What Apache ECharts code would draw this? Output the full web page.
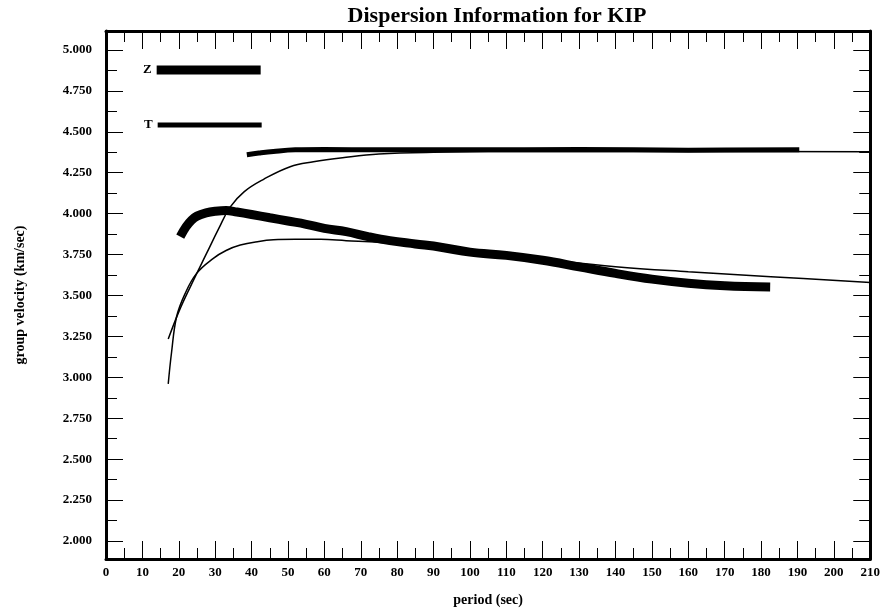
<!DOCTYPE html>
<html><head><meta charset="utf-8">
<script src="https://cdn.jsdelivr.net/npm/echarts@6/dist/echarts.min.js"></script>
<style>html,body{margin:0;padding:0;background:#fff}#c{width:883px;height:612px}</style>
</head><body><div id="c"></div>
<script>
const chartTitle = 'Dispersion Information for KIP';
const xName = 'period (sec)';
const yName = 'group velocity (km/sec)';
const yMajorTicks = [2.0, 2.25, 2.5, 2.75, 3.0, 3.25, 3.5, 3.75, 4.0, 4.25, 4.5, 4.75, 5.0];
const yMinorTicks = [2.125, 2.375, 2.625, 2.875, 3.125, 3.375, 3.625, 3.875, 4.125, 4.375, 4.625, 4.875];

// Z (Rayleigh) observed
const zObsPeriod = [20.4, 22, 23.5, 25, 27.5, 30, 33, 36, 40, 45, 50, 55, 60, 66, 72, 78, 85, 92, 100, 110, 120, 130, 140, 150, 160, 170, 182.5];
const zObsVel    = [3.86, 3.92, 3.96, 3.985, 4.005, 4.015, 4.02, 4.01, 3.995, 3.975, 3.955, 3.935, 3.91, 3.89, 3.86, 3.835, 3.815, 3.795, 3.765, 3.745, 3.715, 3.675, 3.635, 3.6, 3.575, 3.56, 3.552];
// T (Love) observed
const tObsPeriod = [38.7, 42, 46, 52, 60, 75, 100, 130, 160, 190.5];
const tObsVel    = [4.36, 4.37, 4.38, 4.39, 4.392, 4.39, 4.39, 4.392, 4.388, 4.39];
// Z model
const zModPeriod = [17.1, 18, 19.4, 21.7, 24.9, 29.5, 33, 36.9, 42, 46, 52, 59, 66, 75, 85, 100, 120, 140, 160, 182.7, 210];
const zModVel    = [2.96, 3.15, 3.37, 3.51, 3.635, 3.727, 3.775, 3.808, 3.83, 3.84, 3.843, 3.843, 3.835, 3.825, 3.805, 3.77, 3.722, 3.676, 3.645, 3.615, 3.58];
// T model
const tModPeriod = [17.1, 20, 23.1, 27.7, 31, 34.1, 38, 43.3, 50.6, 57, 65, 75, 90, 120, 160, 210];
const tModVel    = [3.234, 3.4, 3.55, 3.76, 3.91, 4.04, 4.135, 4.21, 4.287, 4.317, 4.342, 4.365, 4.375, 4.38, 4.38, 4.378];

const pairs = (xs, ys) => xs.map((x, i) => [x, ys[i]]);
const FONT = 'Liberation Serif';
const lbl = {fontFamily: FONT, fontWeight: 'bold', fontSize: 13, color: '#000'};
const YMIN = 1.89, YMAX = 5.116;

const chart = echarts.init(document.getElementById('c'));
const xAxisBase = (pos, showLabel) => ({
  type: 'value', position: pos, min: 0, max: 210, interval: 10,
  axisLine: {show: true, onZero: false, lineStyle: {color: '#000', width: 3}},
  axisTick: {show: true, inside: true, length: 18, lineStyle: {color: '#000', width: 1}},
  minorTick: {show: true, splitNumber: 2, length: 11, lineStyle: {color: '#000', width: 1}},
  splitLine: {show: false}, minorSplitLine: {show: false},
  axisLabel: Object.assign({show: showLabel, margin: 7}, lbl),
  name: showLabel ? xName : '', nameLocation: 'middle', nameGap: 34,
  nameTextStyle: Object.assign({}, lbl, {fontSize: 14})
});
const yAxisBase = (pos, ticks, len, showLabel, showLine) => ({
  type: 'value', position: pos, min: YMIN, max: YMAX,
  axisLine: {show: showLine, onZero: false, lineStyle: {color: '#000', width: 3}},
  axisTick: {show: true, inside: true, length: len, customValues: ticks, lineStyle: {color: '#000', width: 1}},
  splitLine: {show: false},
  axisLabel: Object.assign({show: showLabel, margin: 14, customValues: ticks, formatter: v => v.toFixed(3)}, lbl),
  name: showLabel ? yName : '', nameLocation: 'middle', nameGap: 79, nameRotate: 90,
  nameTextStyle: Object.assign({}, lbl, {fontSize: 14})
});
const lineSeries = (name, xs, ys, w) => ({
  name, type: 'line', data: pairs(xs, ys), symbol: 'none', smooth: 0.4,
  itemStyle: {color: '#000'}, lineStyle: {color: '#000', width: w}
});

chart.setOption({
  animation: false,
  backgroundColor: '#fff',
  title: {text: chartTitle, left: 492, textAlign: 'center', top: 0,
    textStyle: {fontFamily: FONT, fontWeight: 'bold', fontSize: 22, color: '#000'}},
  grid: {left: 106, right: 11, top: 31, bottom: 53, containLabel: false},
  legend: [
    {data: ['Z'], left: 143, top: 63.5, padding: 0, icon: 'rect', itemWidth: 104, itemHeight: 9, align: 'right', selectedMode: false, textStyle: lbl},
    {data: ['T'], left: 144, top: 118.5, padding: 0, icon: 'rect', itemWidth: 104, itemHeight: 5, align: 'right', selectedMode: false, textStyle: lbl}
  ],
  xAxis: [xAxisBase('bottom', true), xAxisBase('top', false)],
  yAxis: [
    yAxisBase('left', yMajorTicks, 17, true, true),
    yAxisBase('left', yMinorTicks, 11, false, false),
    yAxisBase('right', yMajorTicks, 17, false, true),
    yAxisBase('right', yMinorTicks, 11, false, false)
  ],
  series: [
    lineSeries('Z', zObsPeriod, zObsVel, 9),
    lineSeries('T', tObsPeriod, tObsVel, 5),
    lineSeries('Z model', zModPeriod, zModVel, 1.5),
    lineSeries('T model', tModPeriod, tModVel, 1.5)
  ]
});
</script></body></html>
